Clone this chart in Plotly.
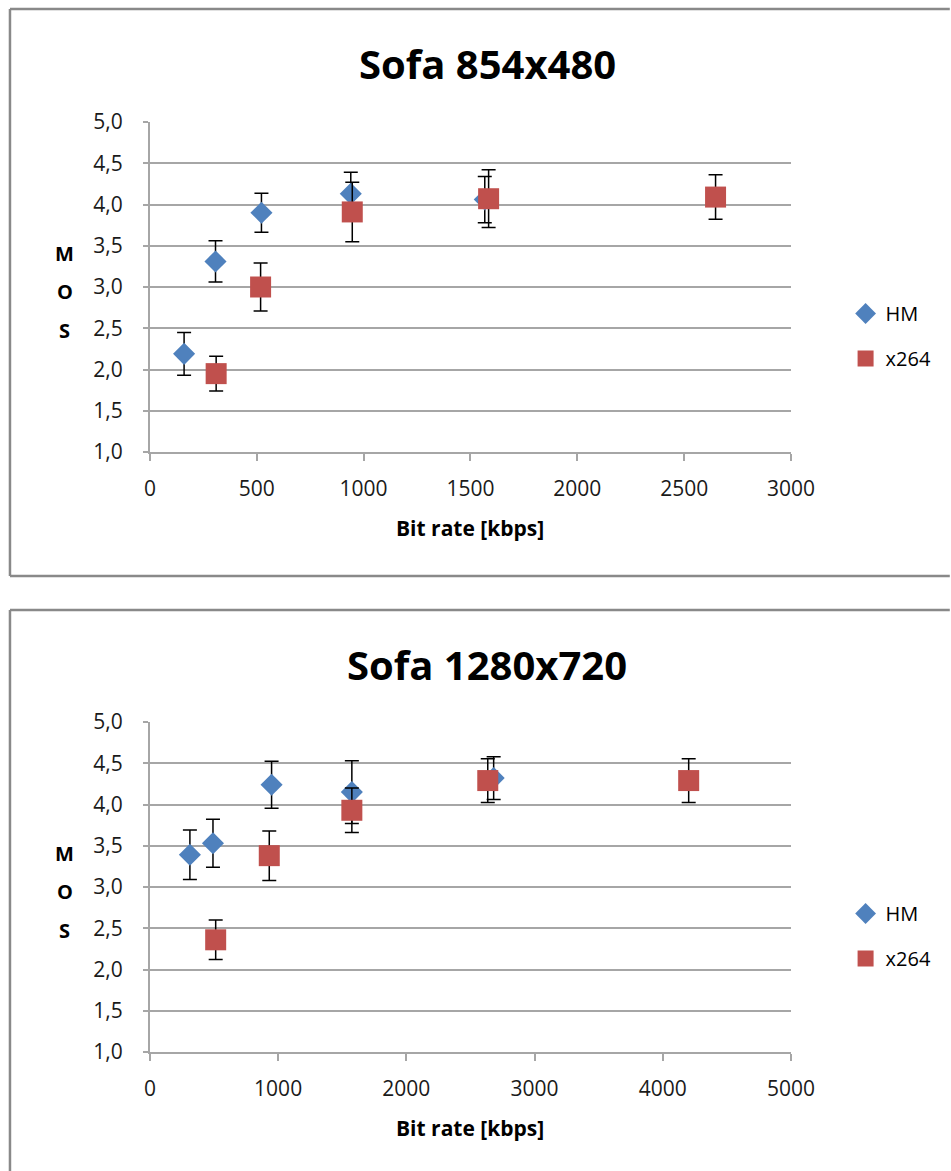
"""MOS vs bit rate, Sofa sequence, HM vs x264."""
import plotly.graph_objects as go

# --- Sofa 854x480 ---
hm_480_rate = [160, 307, 522, 940, 1567]
hm_480_mos = [2.19, 3.31, 3.90, 4.13, 4.06]
hm_480_err = [0.26, 0.25, 0.235, 0.26, 0.28]
x264_480_rate = [310, 518, 947, 1585, 2647]
x264_480_mos = [1.95, 3.00, 3.91, 4.07, 4.09]
x264_480_err = [0.21, 0.29, 0.36, 0.35, 0.27]

# --- Sofa 1280x720 ---
hm_720_rate = [312, 492, 949, 1575, 2681]
hm_720_mos = [3.39, 3.53, 4.24, 4.15, 4.32]
hm_720_err = [0.30, 0.29, 0.285, 0.38, 0.26]
x264_720_rate = [513, 931, 1575, 2635, 4202]
x264_720_mos = [2.36, 3.38, 3.93, 4.29, 4.29]
x264_720_err = [0.24, 0.30, 0.27, 0.265, 0.265]

titles = ["Sofa 854x480", "Sofa 1280x720"]
x_ranges = [[0, 3000], [0, 5000]]
x_dticks = [500, 1000]

W, H = 951, 1171
R = 160            # right margin holds the legends
T = B = 16         # head/foot room so nothing forces a margin push
PW = W - R
PH = H - T - B
BLUE = "#4F81BD"
RED = "#C0504D"
GRID = "#A6A6A6"
FONT = "Open Sans, Liberation Sans, sans-serif"


def px(x):
    return x / PW


def py(y):
    return (H - B - y) / PH


def err(vals):
    return dict(type="data", array=vals, color="#000000", thickness=1.5, width=7)


fig = go.Figure()

panels = [
    (hm_480_rate, hm_480_mos, hm_480_err, x264_480_rate, x264_480_mos, x264_480_err),
    (hm_720_rate, hm_720_mos, hm_720_err, x264_720_rate, x264_720_mos, x264_720_err),
]
# plot-area pixel boxes (top, bottom) for each panel
ybox = [(122, 452), (722, 1052)]
frames = [(9, 576), (610, None)]

for i, (hx, hy, he, xx, xy, xe) in enumerate(panels):
    sfx = "" if i == 0 else str(i + 1)
    leg = "legend" if i == 0 else "legend2"
    fig.add_trace(go.Scatter(
        x=hx, y=hy, mode="markers", name="HM", error_y=err(he),
        marker=dict(symbol="diamond", size=17, color=BLUE),
        xaxis="x" + sfx, yaxis="y" + sfx, legend=leg, legendgroup=f"hm{i}",
    ))
    fig.add_trace(go.Scatter(
        x=xx, y=xy, mode="markers", name="x264", error_y=err(xe),
        marker=dict(symbol="square", size=21, color=RED),
        xaxis="x" + sfx, yaxis="y" + sfx, legend=leg, legendgroup=f"x{i}",
    ))

layout = dict(
    width=W, height=H,
    margin=dict(l=0, r=R, t=T, b=B, pad=0),
    paper_bgcolor="white", plot_bgcolor="white",
    separators=", ",
    font=dict(family=FONT, color="#000000", size=21),
    shapes=[], annotations=[],
)


def label(text, x, y, size):
    return dict(text=text, xref="paper", yref="paper", x=px(x), y=py(y),
                xanchor="center", yanchor="middle", showarrow=False,
                font=dict(size=size, family=FONT))


frame_line = dict(color="#898989", width=2.5)
for i in range(2):
    sfx = "" if i == 0 else str(i + 1)
    top, bot = ybox[i]
    layout["xaxis" + sfx] = dict(
        domain=[px(145), px(791)], range=x_ranges[i], dtick=x_dticks[i],
        showgrid=False, zeroline=False, showline=True, linecolor=GRID, linewidth=2,
        ticks="outside", ticklen=7, tickcolor=GRID, tickwidth=1.5,
        tickfont=dict(size=21, color="#1a1a1a"), ticklabelstandoff=10, anchor="y" + sfx,
    )
    layout["yaxis" + sfx] = dict(
        domain=[py(bot), py(top)], range=[1, 5], dtick=0.5, tickformat=".1f",
        showgrid=True, gridcolor=GRID, gridwidth=1.5, zeroline=False,
        showline=True, linecolor=GRID, linewidth=2,
        ticks="outside", ticklen=5, tickcolor=GRID, tickwidth=1.5,
        tickfont=dict(size=21, color="#1a1a1a"), ticklabelstandoff=16, anchor="x" + sfx,
    )
    # frame around each chart (right side runs off the page)
    f0, f1 = frames[i]
    f1_px = f1 if f1 is not None else H
    layout["shapes"].append(dict(type="line", xref="paper", yref="paper",
                                 x0=px(4), x1=px(W), y0=py(f0), y1=py(f0), line=frame_line))
    layout["shapes"].append(dict(type="line", xref="paper", yref="paper",
                                 x0=px(4), x1=px(4), y0=py(f0), y1=py(f1_px), line=frame_line))
    if f1 is not None:
        layout["shapes"].append(dict(type="line", xref="paper", yref="paper",
                                     x0=px(4), x1=px(W), y0=py(f1), y1=py(f1), line=frame_line))
    # chart title
    layout["annotations"].append(label(f"<b>{titles[i]}</b>", 485, top - 58, 40))
    # stacked y-axis title, one letter per line
    for k, letter in enumerate("MOS"):
        layout["annotations"].append(label(f"<b>{letter}</b>", 59, top + 131 + 38.5 * k, 20))
    # x-axis title
    layout["annotations"].append(label("<b>Bit rate [kbps]</b>", 468, bot + 76, 21))
    layout["legend" if i == 0 else "legend2"] = dict(
        x=px(846), y=py(top + 172), xanchor="left", yanchor="top",
        font=dict(size=20), traceorder="grouped", tracegroupgap=16,
        bgcolor="rgba(0,0,0,0)", itemwidth=30, borderwidth=0,
    )

fig.update_layout(**layout)
fig.write_html("out.html", post_script="document.body.style.margin='0';",
               config=dict(displayModeBar=False))
